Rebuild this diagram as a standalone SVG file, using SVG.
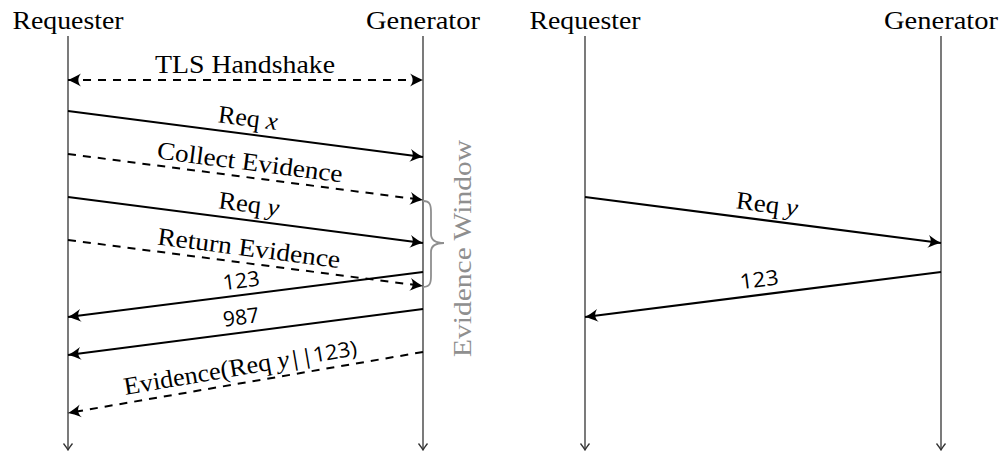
<svg xmlns="http://www.w3.org/2000/svg" width="1003" height="452" viewBox="0 0 1003 452">
<style>
.title{font-family:"Liberation Serif","Times New Roman",serif;font-size:25.5px;fill:#000;text-anchor:middle}
.lbl{font-family:"Liberation Serif","Times New Roman",serif;font-size:25px;fill:#000;text-anchor:middle}
.num{font-family:"Open Sans","DejaVu Sans",sans-serif;font-size:21px;fill:#000;text-anchor:middle}
.sans{font-family:"Open Sans","DejaVu Sans",sans-serif;font-size:21px}
.it{font-style:italic}
.life{stroke:#333;stroke-width:1.3;fill:none;marker-end:url(#tip)}
.msg{stroke:#000;stroke-width:2;fill:none;marker-end:url(#head)}
.dash{stroke-dasharray:8 7}
.grey{fill:#8f8f8f}
</style>
<defs>
<marker id="head" viewBox="-14 -7 14 14" refX="0" refY="0" markerWidth="14" markerHeight="14" markerUnits="userSpaceOnUse" orient="auto-start-reverse">
<path d="M0,0 C-3.5,-1.4 -8,-3.5 -13,-6.5 C-9.5,-2.3 -9.5,2.3 -13,6.5 C-8,3.5 -3.5,1.4 0,0 Z" fill="#000"/>
</marker>
<marker id="tip" viewBox="-8 -6 9 12" refX="0" refY="0" markerWidth="9" markerHeight="12" markerUnits="userSpaceOnUse" orient="auto">
<path d="M-6.5,-4.5 Q-2,-1 0,0 Q-2,1 -6.5,4.5" fill="none" stroke="#333" stroke-width="1.3"/>
</marker>
</defs>

<g id="left-requester">
<text class="title" x="68" y="29" textLength="111" lengthAdjust="spacingAndGlyphs">Requester</text>
<line class="life" x1="68" y1="36" x2="68" y2="450"/>
</g>
<g id="left-generator">
<text class="title" x="423" y="29" textLength="114" lengthAdjust="spacingAndGlyphs">Generator</text>
<line class="life" x1="423" y1="36" x2="423" y2="450"/>
</g>
<g id="right-requester">
<text class="title" x="585" y="29" textLength="111" lengthAdjust="spacingAndGlyphs">Requester</text>
<line class="life" x1="585" y1="36" x2="585" y2="450"/>
</g>
<g id="right-generator">
<text class="title" x="941" y="29" textLength="114" lengthAdjust="spacingAndGlyphs">Generator</text>
<line class="life" x1="941" y1="36" x2="941" y2="450"/>
</g>

<g id="evidence-window">
<path d="M423,201 C430,201 431,205 431,212 L431,234 C431,240 436,243 444,243 C436,243 431,246 431,252 L431,276 C431,283 430,287 423,287" fill="none" stroke="#8f8f8f" stroke-width="1.8"/>
<text class="lbl grey" transform="translate(471,248.5) rotate(-90)" x="0" y="0" font-size="26" textLength="217" lengthAdjust="spacingAndGlyphs">Evidence Window</text>
</g>

<g id="connectors">
<line class="msg dash" x1="68" y1="80" x2="423" y2="80" marker-start="url(#head)"/>
<text class="lbl" x="245" y="72.5" textLength="180" lengthAdjust="spacingAndGlyphs">TLS Handshake</text>

<line class="msg" x1="68" y1="111" x2="423" y2="157"/>
<text class="lbl" transform="translate(246,134.07) rotate(7.383)" x="0" y="-8" textLength="60" lengthAdjust="spacingAndGlyphs">Req <tspan class="it">x</tspan></text>

<line class="msg dash" x1="68" y1="154" x2="423" y2="200"/>
<text class="lbl" transform="translate(248,177.32) rotate(7.383)" x="0" y="-7" textLength="187" lengthAdjust="spacingAndGlyphs">Collect Evidence</text>

<line class="msg" x1="68" y1="197" x2="423" y2="243"/>
<text class="lbl" transform="translate(247,220.19) rotate(7.383)" x="0" y="-8" textLength="61" lengthAdjust="spacingAndGlyphs">Req <tspan class="it">y</tspan></text>

<line class="msg dash" x1="68" y1="240" x2="423" y2="286"/>
<text class="lbl" transform="translate(247,263.19) rotate(7.383)" x="0" y="-7" textLength="184" lengthAdjust="spacingAndGlyphs">Return Evidence</text>

<line class="msg" x1="423" y1="272" x2="68" y2="317"/>
<text class="num" transform="translate(243,294.82) rotate(-7.224)" x="0" y="-7" textLength="37" lengthAdjust="spacingAndGlyphs">123</text>

<line class="msg" x1="423" y1="309" x2="68" y2="355"/>
<text class="num" transform="translate(243,332.32) rotate(-7.383)" x="0" y="-8" textLength="36" lengthAdjust="spacingAndGlyphs">987</text>

<line class="msg dash" x1="423" y1="352" x2="68" y2="413"/>
<text class="lbl" transform="translate(243,382.93) rotate(-9.75)" x="0" y="-8" textLength="236" lengthAdjust="spacingAndGlyphs">Evidence(Req <tspan class="it">y</tspan><tspan class="sans">||123)</tspan></text>

<line class="msg" x1="585" y1="197" x2="941" y2="243"/>
<text class="lbl" transform="translate(765,220.26) rotate(7.362)" x="0" y="-8" textLength="62" lengthAdjust="spacingAndGlyphs">Req <tspan class="it">y</tspan></text>

<line class="msg" x1="941" y1="272" x2="585" y2="317"/>
<text class="num" transform="translate(761,294.75) rotate(-7.204)" x="0" y="-8" textLength="39" lengthAdjust="spacingAndGlyphs">123</text>
</g>
</svg>
